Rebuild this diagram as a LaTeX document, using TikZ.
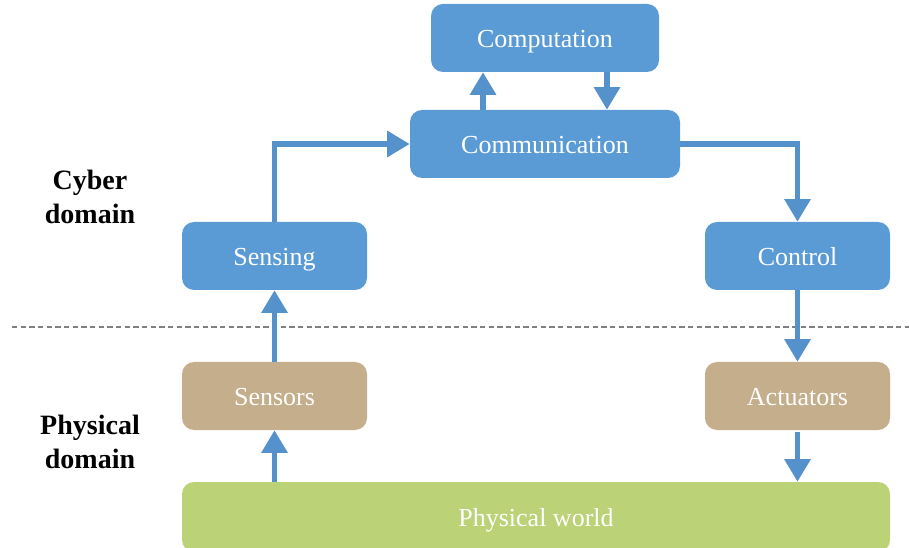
\documentclass[tikz,border=0pt]{standalone}
\usepackage{fontspec}
\setmainfont{Liberation Serif}
\usetikzlibrary{arrows.meta}
\definecolor{cyberblue}{HTML}{5B9BD5}
\definecolor{arrowblue}{HTML}{5592CC}
\definecolor{sensortan}{HTML}{C4AE8B}
\definecolor{worldgreen}{HTML}{BBD277}
\begin{document}
\begin{tikzpicture}[x=0.75pt, y=-0.75pt,
    box/.style={rounded corners=9pt, text=white, minimum height=51pt,
        text height=16pt, text depth=2pt,
        font=\fontsize{19.5}{23}\selectfont},
    cyber/.style={box, fill=cyberblue},
    phys/.style={box, fill=sensortan},
    flow/.style={arrowblue, line width=4pt,
        -{Triangle[width=19pt, length=17pt]}},
    domainlbl/.style={align=center, font=\fontsize{21}{25}\selectfont\bfseries}]
    \useasboundingbox (0,0) rectangle (909,548);

    % Рисуем блоки
    \node[cyber, minimum width=171pt] (comp) at (545,38) {Computation};
    \node[cyber, minimum width=202.5pt] (comm) at (545,144) {Communication};
    \node[cyber, minimum width=138.75pt] (sensing) at (274.5,256) {Sensing};
    \node[cyber, minimum width=138.75pt] (control) at (797.5,256) {Control};
    \node[phys, minimum width=138.75pt] (sensors) at (274.5,396) {Sensors};
    \node[phys, minimum width=138.75pt] (actuators) at (797.5,396) {Actuators};
    \node[box, fill=worldgreen, minimum width=531pt, minimum height=52.5pt] (world) at (536,517) {Physical world};

    % Подписи областей
    \node[domainlbl] (cyberlbl) at (90,197) {Cyber\\domain};
    \node[domainlbl] (physlbl) at (90,442) {Physical\\domain};

    % Граница
    \draw[gray, line width=1.5pt, dash pattern=on 4pt off 2.5pt] (12,327) -- (909,327);

    % Стрелки
    \coordinate (upx) at (483,0);
    \coordinate (downx) at (607,0);
    \draw[flow] (comm.north -| upx) -- (comp.south -| upx);
    \draw[flow] (comp.south -| downx) -- (comm.north -| downx);
    \draw[flow] (sensing.north) |- (comm.west);
    \draw[flow] (comm.east) -| (control.north);
    \draw[flow] (control.south) -- (actuators.north);
    \draw[flow] ([yshift=-1.5pt]actuators.south) -- (world.north -| actuators);
    \draw[flow] (world.north -| sensors) -- (sensors.south);
    \draw[flow] (sensors.north) -- (sensing.south);
\end{tikzpicture}
\end{document}
